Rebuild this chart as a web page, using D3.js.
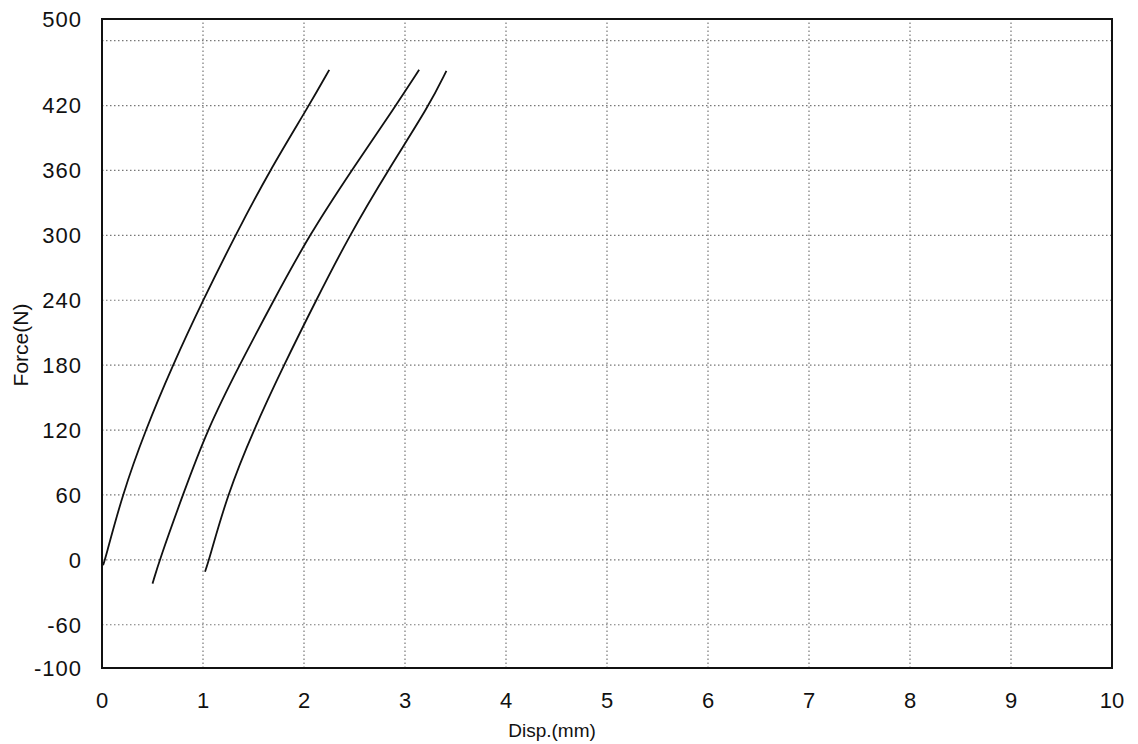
<!DOCTYPE html>
<html><head><meta charset="utf-8">
<script src="https://cdn.jsdelivr.net/npm/d3@7"></script>
<style>body{margin:0;background:#fff}text{font-family:"Liberation Sans",Arial,sans-serif;fill:#111}</style>
</head><body><svg id="c" width="1138" height="744"></svg>
<script>
const xTicks = [0,1,2,3,4,5,6,7,8,9,10];
const yTickLabels = [-100,-60,0,60,120,180,240,300,360,420,500];
const yGrid = [-60,0,60,120,180,240,300,360,420,480];
const xGrid = [1,2,3,4,5,6,7,8,9];
const curve1 = [[0.01,-5],[0.03,0],[0.2,60],[0.43,120],[0.7,180],[1.0,240],[1.32,300],[1.66,360],[2.05,420],[2.25,453]];
const curve2 = [[0.5,-22],[0.57,0],[0.8,60],[1.04,120],[1.36,180],[1.7,240],[2.05,300],[2.47,360],[2.91,420],[3.14,453]];
const curve3 = [[1.02,-11],[1.06,0],[1.24,60],[1.5,120],[1.8,180],[2.12,240],[2.45,300],[2.83,360],[3.24,420],[3.41,452]];

const svg = d3.select("#c");
const x = d3.scaleLinear().domain([0,10]).range([102,1112]);
const y = d3.scaleLinear().domain([-100,500]).range([668,19]);

// grid
svg.append("g").selectAll("line").data(yGrid).join("line")
  .attr("x1",x(0)).attr("x2",x(10)).attr("y1",d=>y(d)).attr("y2",d=>y(d))
  .attr("stroke","#777").attr("stroke-width",1.2).attr("stroke-dasharray","1.5,2.5");
svg.append("g").selectAll("line").data(xGrid).join("line")
  .attr("y1",y(-100)).attr("y2",y(500)).attr("x1",d=>x(d)).attr("x2",d=>x(d))
  .attr("stroke","#777").attr("stroke-width",1.2).attr("stroke-dasharray","1.5,2.5");

// frame
svg.append("rect").attr("x",x(0)).attr("y",y(500)).attr("width",x(10)-x(0)).attr("height",y(-100)-y(500))
  .attr("fill","none").attr("stroke","#111").attr("stroke-width",2);

// curves
const line = d3.line().x(d=>x(d[0])).y(d=>y(d[1])).curve(d3.curveBasis);
[curve1,curve2,curve3].forEach(c=>{
  svg.append("path").attr("d",line(c)).attr("fill","none").attr("stroke","#111").attr("stroke-width",1.8);
});

// tick labels
svg.append("g").selectAll("text").data(yTickLabels).join("text")
  .attr("x",82).attr("y",d=>y(d)).attr("dy","0.36em").attr("text-anchor","end")
  .attr("font-size",22).attr("letter-spacing",1).text(d=>d);
svg.append("g").selectAll("text").data(xTicks).join("text")
  .attr("x",d=>x(d)).attr("y",708).attr("text-anchor","middle")
  .attr("font-size",22).text(d=>d);

svg.append("text").attr("x",552).attr("y",737).attr("text-anchor","middle").attr("font-size",19).text("Disp.(mm)");
svg.append("text").attr("transform","translate(28,345) rotate(-90)").attr("text-anchor","middle").attr("font-size",21).text("Force(N)");
</script></body></html>
